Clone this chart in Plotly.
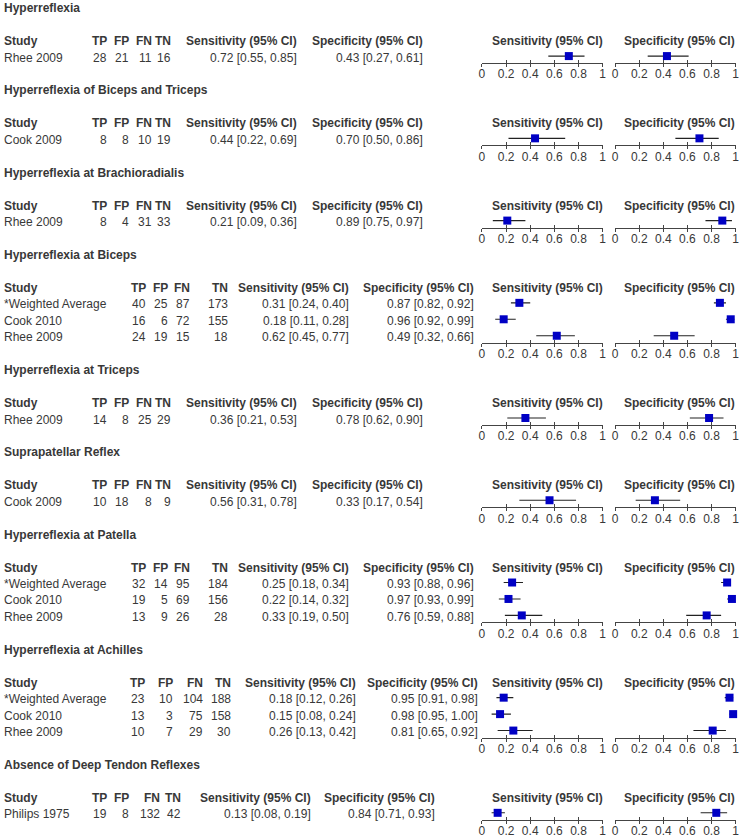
import plotly.graph_objects as go

# ---------------- data ----------------
section_titles = [
    "Hyperreflexia",
    "Hyperreflexia of Biceps and Triceps",
    "Hyperreflexia at Brachioradialis",
    "Hyperreflexia at Biceps",
    "Hyperreflexia at Triceps",
    "Suprapatellar Reflex",
    "Hyperreflexia at Patella",
    "Hyperreflexia at Achilles",
    "Absence of Deep Tendon Reflexes",
]
section_rows = [1, 1, 1, 3, 1, 1, 3, 3, 1]

study = [
    "Rhee 2009",
    "Cook 2009",
    "Rhee 2009",
    "*Weighted Average", "Cook 2010", "Rhee 2009",
    "Rhee 2009",
    "Cook 2009",
    "*Weighted Average", "Cook 2010", "Rhee 2009",
    "*Weighted Average", "Cook 2010", "Rhee 2009",
    "Philips 1975",
]
tp = [28, 8, 8, 40, 16, 24, 14, 10, 32, 19, 13, 23, 13, 10, 19]
fp = [21, 8, 4, 25, 6, 19, 8, 18, 14, 5, 9, 10, 3, 7, 8]
fn = [11, 10, 31, 87, 72, 15, 25, 8, 95, 69, 26, 104, 75, 29, 132]
tn = [16, 19, 33, 173, 155, 18, 29, 9, 184, 156, 28, 188, 158, 30, 42]

sens = [0.72, 0.44, 0.21, 0.31, 0.18, 0.62, 0.36, 0.56, 0.25, 0.22, 0.33, 0.18, 0.15, 0.26, 0.13]
sens_lo = [0.55, 0.22, 0.09, 0.24, 0.11, 0.45, 0.21, 0.31, 0.18, 0.14, 0.19, 0.12, 0.08, 0.13, 0.08]
sens_hi = [0.85, 0.69, 0.36, 0.40, 0.28, 0.77, 0.53, 0.78, 0.34, 0.32, 0.50, 0.26, 0.24, 0.42, 0.19]

spec = [0.43, 0.70, 0.89, 0.87, 0.96, 0.49, 0.78, 0.33, 0.93, 0.97, 0.76, 0.95, 0.98, 0.81, 0.84]
spec_lo = [0.27, 0.50, 0.75, 0.82, 0.92, 0.32, 0.62, 0.17, 0.88, 0.93, 0.59, 0.91, 0.95, 0.65, 0.71]
spec_hi = [0.61, 0.86, 0.97, 0.92, 0.99, 0.66, 0.90, 0.54, 0.96, 0.99, 0.88, 0.98, 1.00, 0.92, 0.93]

axis_ticks = [0, 0.2, 0.4, 0.6, 0.8, 1]
tick_labels = ["0", "0.2", "0.4", "0.6", "0.8", "1"]

col_headers = ["TP", "FP", "FN", "TN", "Sensitivity (95% CI)", "Specificity (95% CI)"]
plot_headers = ["Sensitivity (95% CI)", "Specificity (95% CI)"]

# ---------------- layout constants ----------------
W, H = 745, 839
N_LINES = sum(section_rows) + 4 * len(section_titles)
LINE = H / N_LINES
FONT = "Arial, 'Liberation Sans', sans-serif"
TXT = "#383838"
AX = "#444444"

# right edges (px) of table columns TP, FP, FN, TN, Sens, Spec
col_layouts = {
    "A": [105, 127, 150, 170, 297, 424],
    "B": [144, 167, 189, 227, 349, 475],
    "C": [143, 172, 202, 230, 356, 480],
    "D": [105, 127, 158, 180, 311, 436],
}
section_layout = ["A", "A", "A", "B", "A", "A", "B", "C", "D"]
LEFT_X = 0.5

SENS_DOM = [483.5 / W, 605.3 / W]
SPEC_DOM = [618.0 / W, 739.5 / W]
PLOT_HDR_RIGHT = [605.5, 739.0]

fig = go.Figure()
annotations = []


def ann(x, yline, text, anchor="right", bold=False):
    annotations.append(dict(
        x=x, y=yline, xref="x", yref="y", text=("<b>%s</b>" % text) if bold else text,
        showarrow=False, xanchor=anchor, yanchor="middle",
        borderpad=0, borderwidth=0,
        font=dict(family=FONT, size=12, color=TXT),
    ))


axes_layout = {}
line0 = 0
idx = 0
ax_n = 2
for s, title in enumerate(section_titles):
    n = section_rows[s]
    cols = col_layouts[section_layout[s]]
    ann(LEFT_X, line0 + 0.5, title, anchor="left", bold=True)
    hline = line0 + 2.5
    ann(LEFT_X, hline, "Study", anchor="left", bold=True)
    for c, h in enumerate(col_headers):
        ann(cols[c], hline, h, bold=True)
    for p, h in enumerate(plot_headers):
        ann(PLOT_HDR_RIGHT[p], hline, h, bold=True)

    rows = list(range(idx, idx + n))
    ylines = []
    for r_i, r in enumerate(rows):
        yl = line0 + 3.5 + r_i
        ylines.append(yl)
        ann(LEFT_X, yl, study[r], anchor="left")
        for c, v in enumerate([tp[r], fp[r], fn[r], tn[r]]):
            ann(cols[c], yl, str(v))
        ann(cols[4], yl, "%.2f [%.2f, %.2f]" % (sens[r], sens_lo[r], sens_hi[r]))
        ann(cols[5], yl, "%.2f [%.2f, %.2f]" % (spec[r], spec_lo[r], spec_hi[r]))

    axis_line = ylines[-1] + 5.5 / LINE
    pos = 1 - axis_line / N_LINES
    mark_y = [y - 1.5 / LINE for y in ylines]

    for p, (vals, lo, hi, dom) in enumerate([
        (sens, sens_lo, sens_hi, SENS_DOM),
        (spec, spec_lo, spec_hi, SPEC_DOM),
    ]):
        main, t_in, t_out = ax_n, ax_n + 1, ax_n + 2
        ax_n += 3
        v = [vals[r] for r in rows]
        fig.add_trace(go.Scatter(
            x=v, y=mark_y, mode="markers", xaxis="x%d" % main, yaxis="y",
            marker=dict(symbol="square", size=8, color="#0000C4", line=dict(width=0)),
            error_x=dict(type="data", symmetric=False,
                         array=[hi[r] - vals[r] for r in rows],
                         arrayminus=[vals[r] - lo[r] for r in rows],
                         width=0, thickness=1.1, color="#222222"),
            cliponaxis=False, showlegend=False, hoverinfo="skip",
        ))
        for t in (t_in, t_out):
            fig.add_trace(go.Scatter(
                x=[None], y=[None], mode="markers", xaxis="x%d" % t, yaxis="y",
                showlegend=False, hoverinfo="skip",
            ))
        common = dict(domain=dom, range=[0, 1], anchor="free", position=pos,
                      showgrid=False, zeroline=False, fixedrange=True,
                      tickvals=axis_ticks, ticktext=tick_labels,
                      ticklen=3, tickwidth=1, tickcolor=AX)
        axes_layout["xaxis%d" % main] = dict(
            common, ticks="", showline=True, linecolor=AX, linewidth=1,
            showticklabels=True, tickfont=dict(family=FONT, size=12, color=TXT))
        axes_layout["xaxis%d" % t_in] = dict(
            common, ticks="inside", showline=False, showticklabels=False)
        axes_layout["xaxis%d" % t_out] = dict(
            common, ticks="outside", showline=False, showticklabels=False)

    idx += n
    line0 += n + 4

fig.update_layout(
    width=W, height=H, autosize=False,
    margin=dict(l=0, r=0, t=0, b=0),
    paper_bgcolor="white", plot_bgcolor="rgba(0,0,0,0)",
    showlegend=False,
    xaxis=dict(domain=[0, 1], range=[0, W], visible=False, fixedrange=True, anchor="y"),
    yaxis=dict(domain=[0, 1], range=[N_LINES, 0], visible=False, fixedrange=True, anchor="x"),
    annotations=annotations,
    **axes_layout,
)

fig.write_html(
    "out.html",
    config={"displayModeBar": False},
    post_script="document.body.style.margin='0px';document.body.style.padding='0px';",
)
